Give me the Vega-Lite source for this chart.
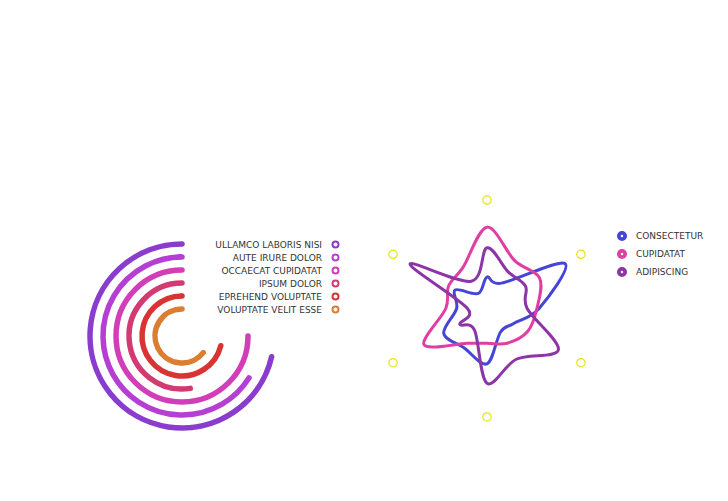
{
  "$schema": "https://vega.github.io/schema/vega-lite/v6.json",
  "autosize": {"type": "pad"},
  "padding": {"left": 10, "top": 171, "right": 0, "bottom": 0},
  "background": "white",
  "bounds": "flush",
  "spacing": 10,
  "config": {"view": {"stroke": null}, "font": "DejaVu Sans"},
  "resolve": {"scale": {"color": "independent"}, "legend": {"color": "independent"}},
  "hconcat": [
    {
      "width": 344,
      "height": 330,
      "data": {"values": [
        {"name": "ULLAMCO LABORIS NISI", "value": 257},
        {"name": "AUTE IRURE DOLOR", "value": 238},
        {"name": "OCCAECAT CUPIDATAT", "value": 270},
        {"name": "IPSUM DOLOR", "value": 189},
        {"name": "EPREHEND VOLUPTATE", "value": 256},
        {"name": "VOLUPTATE VELIT ESSE", "value": 232}
      ]},
      "mark": {"type": "arc", "filled": false, "strokeWidth": 5.5, "strokeJoin": "round", "strokeCap": "round"},
      "encoding": {
        "theta": {"field": "value", "type": "quantitative", "stack": null, "scale": {"domain": [0, 360], "range": [6.283185, 0]}},
        "theta2": {"datum": 0},
        "radius": {"field": "name", "type": "nominal", "scale": {"type": "point", "padding": 0, "domain": ["VOLUPTATE VELIT ESSE", "EPREHEND VOLUPTATE", "IPSUM DOLOR", "OCCAECAT CUPIDATAT", "AUTE IRURE DOLOR", "ULLAMCO LABORIS NISI"], "range": [27, 92]}},
        "radius2": {"field": "name"},
        "color": {
          "field": "name",
          "type": "nominal",
          "scale": {
            "domain": ["ULLAMCO LABORIS NISI", "AUTE IRURE DOLOR", "OCCAECAT CUPIDATAT", "IPSUM DOLOR", "EPREHEND VOLUPTATE", "VOLUPTATE VELIT ESSE"],
            "range": ["#8a3ccf", "#b63fd3", "#d23db8", "#d33a72", "#d83434", "#dc7d30"]
          },
          "legend": {
            "title": null,
            "orient": "none",
            "legendX": 321,
            "legendY": 69,
            "symbolType": "circle",
            "symbolSize": 36,
            "symbolStrokeWidth": 2,
            "symbolFillColor": "white",
            "labelAlign": "right",
            "labelOffset": -18,
            "labelFont": "DejaVu Sans",
            "labelFontSize": 9,
            "labelColor": "#333333",
            "rowPadding": -2,
            "labelLimit": 300
          }
        }
      }
    },
    {
      "width": 246,
      "height": 275,
      "layer": [
        {
          "data": {"values": [
            {"axis": 0, "max": 100}, {"axis": 2, "max": 100}, {"axis": 4, "max": 100},
            {"axis": 6, "max": 100}, {"axis": 8, "max": 100}, {"axis": 10, "max": 100}
          ]},
          "transform": [
            {"calculate": "datum.max * sin(datum.axis * PI / 6)", "as": "px"},
            {"calculate": "datum.max * cos(datum.axis * PI / 6)", "as": "py"}
          ],
          "mark": {"type": "point", "shape": "circle", "filled": false, "size": 70, "strokeWidth": 1.2, "color": "#e6e21e", "opacity": 1},
          "encoding": {
            "x": {"field": "px", "type": "quantitative", "axis": null, "scale": {"domain": [-113.4, 113.4], "nice": false, "zero": false}},
            "y": {"field": "py", "type": "quantitative", "axis": null, "scale": {"domain": [-126.75, 126.75], "nice": false, "zero": false}}
          }
        },
        {
          "data": {"values": [
            {"series": "CONSECTETUR", "axis": 0, "value": 29},
            {"series": "CONSECTETUR", "axis": 1, "value": 27},
            {"series": "CONSECTETUR", "axis": 2, "value": 83},
            {"series": "CONSECTETUR", "axis": 3, "value": 48},
            {"series": "CONSECTETUR", "axis": 4, "value": 28},
            {"series": "CONSECTETUR", "axis": 5, "value": 25},
            {"series": "CONSECTETUR", "axis": 6, "value": 51},
            {"series": "CONSECTETUR", "axis": 7, "value": 42},
            {"series": "CONSECTETUR", "axis": 8, "value": 46},
            {"series": "CONSECTETUR", "axis": 9, "value": 28},
            {"series": "CONSECTETUR", "axis": 10, "value": 34},
            {"series": "CONSECTETUR", "axis": 11, "value": 16},
            {"series": "CUPIDATAT", "axis": 0, "value": 75},
            {"series": "CUPIDATAT", "axis": 1, "value": 51},
            {"series": "CUPIDATAT", "axis": 2, "value": 56},
            {"series": "CUPIDATAT", "axis": 3, "value": 46},
            {"series": "CUPIDATAT", "axis": 4, "value": 43},
            {"series": "CUPIDATAT", "axis": 5, "value": 37},
            {"series": "CUPIDATAT", "axis": 6, "value": 32},
            {"series": "CUPIDATAT", "axis": 7, "value": 37},
            {"series": "CUPIDATAT", "axis": 8, "value": 67},
            {"series": "CUPIDATAT", "axis": 9, "value": 38},
            {"series": "CUPIDATAT", "axis": 10, "value": 41},
            {"series": "CUPIDATAT", "axis": 11, "value": 44},
            {"series": "ADIPISCING", "axis": 0, "value": 56},
            {"series": "ADIPISCING", "axis": 1, "value": 39},
            {"series": "ADIPISCING", "axis": 2, "value": 41},
            {"series": "ADIPISCING", "axis": 3, "value": 37},
            {"series": "ADIPISCING", "axis": 4, "value": 76},
            {"series": "ADIPISCING", "axis": 5, "value": 54},
            {"series": "ADIPISCING", "axis": 6, "value": 69},
            {"series": "ADIPISCING", "axis": 7, "value": 23},
            {"series": "ADIPISCING", "axis": 8, "value": 29},
            {"series": "ADIPISCING", "axis": 9, "value": 18},
            {"series": "ADIPISCING", "axis": 10, "value": 82},
            {"series": "ADIPISCING", "axis": 11, "value": 29}
          ]},
          "transform": [
            {"calculate": "datum.value * sin(datum.axis * PI / 6)", "as": "px"},
            {"calculate": "datum.value * cos(datum.axis * PI / 6)", "as": "py"}
          ],
          "mark": {"type": "line", "interpolate": "cardinal-closed", "strokeWidth": 3, "strokeJoin": "round"},
          "encoding": {
            "x": {"field": "px", "type": "quantitative", "axis": null},
            "y": {"field": "py", "type": "quantitative", "axis": null},
            "order": {"field": "axis", "type": "quantitative"},
            "color": {
              "field": "series",
              "type": "nominal",
              "sort": ["CONSECTETUR", "CUPIDATAT", "ADIPISCING"],
              "scale": {"domain": ["CONSECTETUR", "CUPIDATAT", "ADIPISCING"], "range": ["#4545d6", "#e13ea1", "#8b35a6"]},
              "legend": {
                "title": null,
                "orient": "none",
                "legendX": 253,
                "legendY": 60,
                "symbolType": "circle",
                "symbolSize": 39,
                "symbolStrokeWidth": 3.75,
                "symbolFillColor": "white",
                "labelOffset": 9,
                "labelFont": "DejaVu Sans",
                "labelFontSize": 9,
                "labelColor": "#333333",
                "rowPadding": -4
              }
            }
          }
        }
      ]
    }
  ]
}
